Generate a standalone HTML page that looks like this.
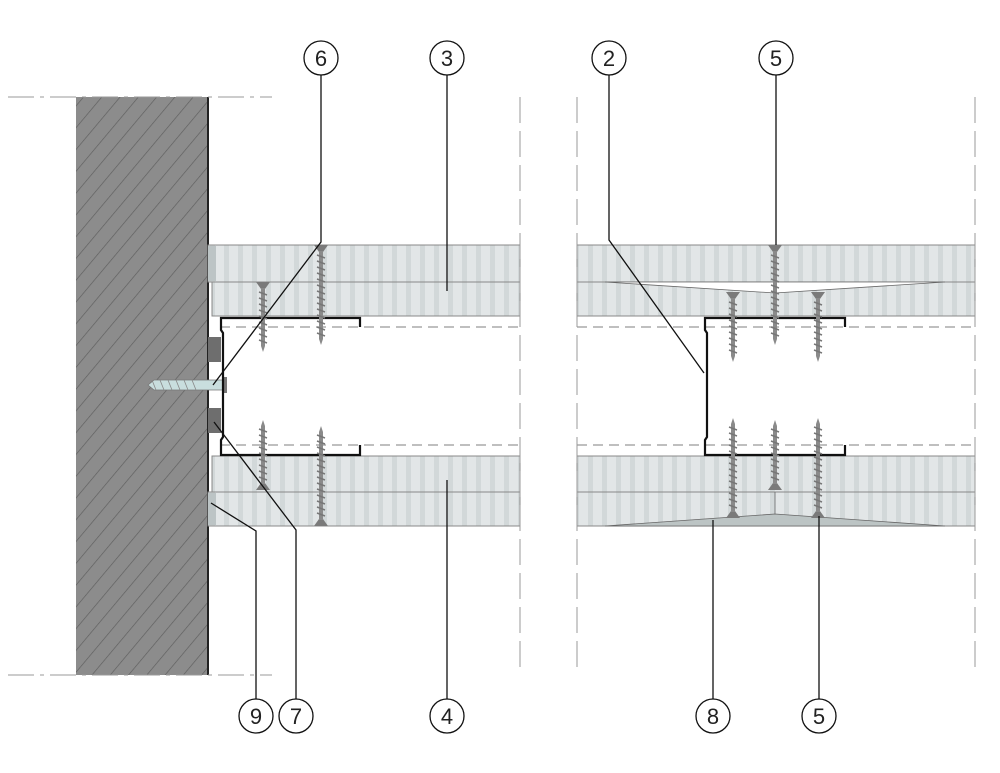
<!DOCTYPE html>
<html><head><meta charset="utf-8"><style>
html,body{margin:0;padding:0;background:#fff;}
svg{display:block;}
text{font-family:"Liberation Sans",sans-serif;font-size:22px;fill:#222;text-anchor:middle;}
</style></head><body>
<svg width="1000" height="773" viewBox="0 0 1000 773" xmlns="http://www.w3.org/2000/svg">
<defs>
<pattern id="hatch" width="14" height="14" patternUnits="userSpaceOnUse" patternTransform="rotate(40)">
<rect width="14" height="14" fill="#8c8c8c"/><line x1="0" y1="0" x2="0" y2="14" stroke="#5e5e5e" stroke-width="1.3"/>
</pattern>
<pattern id="board" width="14" height="10" patternUnits="userSpaceOnUse">
<rect width="14" height="10" fill="#e2e6e7"/><rect x="0" width="5" height="10" fill="#d2d8d9"/>
</pattern>
<g id="screwL">
<polygon points="-7,0 7,0 2,7 -2,7" fill="#7a7a7a"/>
<rect x="-2" y="6" width="4" height="88" fill="#8a8a8a"/>
<path d="M-4,10 L4,13 M-4,16 L4,19 M-4,22 L4,25 M-4,28 L4,31 M-4,34 L4,37 M-4,40 L4,43 M-4,46 L4,49 M-4,52 L4,55 M-4,58 L4,61 M-4,64 L4,67 M-4,70 L4,73 M-4,76 L4,79 M-4,82 L4,85 M-4,88 L4,91" stroke="#777" stroke-width="1.5"/>
<polygon points="-2,94 2,94 0,100" fill="#8a8a8a"/>
</g>
<g id="screwS">
<polygon points="-7,0 7,0 2,7 -2,7" fill="#7a7a7a"/>
<rect x="-2" y="6" width="4" height="58" fill="#8a8a8a"/>
<path d="M-4,10 L4,13 M-4,16 L4,19 M-4,22 L4,25 M-4,28 L4,31 M-4,34 L4,37 M-4,40 L4,43 M-4,46 L4,49 M-4,52 L4,55 M-4,58 L4,61" stroke="#777" stroke-width="1.5"/>
<polygon points="-2,64 2,64 0,70" fill="#8a8a8a"/>
</g>
</defs>

<rect x="76" y="97" width="132" height="578" fill="url(#hatch)"/>
<line x1="208" y1="97" x2="208" y2="675" stroke="#222" stroke-width="2"/>
<g stroke="#999" stroke-width="1" stroke-dasharray="26,6,4,6">
<line x1="8" y1="97" x2="272" y2="97"/><line x1="8" y1="675" x2="272" y2="675"/>
</g>

<g stroke="#888" stroke-width="1">
<rect x="208" y="245" width="312" height="37" fill="url(#board)"/>
<rect x="212" y="282" width="308" height="34" fill="url(#board)"/>
<rect x="212" y="456" width="308" height="36" fill="url(#board)"/>
<rect x="208" y="492" width="312" height="34" fill="url(#board)"/>
<rect x="577" y="245" width="398" height="37" fill="url(#board)"/>
<rect x="577" y="282" width="398" height="34" fill="url(#board)"/>
<rect x="577" y="456" width="398" height="36" fill="url(#board)"/>
<rect x="577" y="492" width="398" height="34" fill="url(#board)"/>
</g>
<rect x="208" y="246" width="8" height="35" fill="#bcc4c5"/>
<rect x="208" y="493" width="8" height="32" fill="#bcc4c5"/>
<polygon points="605,282 945,282 775,293" fill="#fff" stroke="#666" stroke-width="0.8"/>
<polygon points="605,526 945,526 775,514" fill="#bcc4c4" stroke="#666" stroke-width="0.8"/>
<line x1="775" y1="492" x2="775" y2="514" stroke="#666" stroke-width="0.8"/>

<g stroke="#999" stroke-width="1.3" stroke-dasharray="10,6">
<line x1="220" y1="327" x2="520" y2="327"/><line x1="220" y1="445" x2="520" y2="445"/>
<line x1="577" y1="327" x2="975" y2="327"/><line x1="577" y1="445" x2="975" y2="445"/>
</g>
<g stroke="#999" stroke-width="1" stroke-dasharray="26,8">
<line x1="520" y1="97" x2="520" y2="675"/><line x1="577" y1="97" x2="577" y2="675"/><line x1="975" y1="97" x2="975" y2="675"/>
</g>

<rect x="208" y="337" width="13" height="25" fill="#6e6e6e"/>
<rect x="208" y="408" width="13" height="25" fill="#6e6e6e"/>
<polygon points="148,385 154,380 224,380 224,390 154,390" fill="#c9dede" stroke="#777" stroke-width="0.8"/>
<path d="M152,380 L156,390 M160,380 L164,390 M168,380 L172,390 M176,380 L180,390 M184,380 L188,390 M192,380 L196,390" stroke="#888" stroke-width="0.8"/>
<rect x="224" y="377" width="3" height="16" fill="#777"/>

<g fill="none" stroke="#111" stroke-width="2.2">
<path d="M360,327 L360,318 L221,318 L221,330 L223,333 L223,437 L221,440 L221,455 L360,455 L360,445"/>
<path d="M845,327 L845,318 L705,318 L705,330 L707,333 L707,437 L705,440 L705,455 L845,455 L845,445"/>
</g>

<use href="#screwL" x="321" y="245"/>
<use href="#screwS" x="263" y="282"/>
<use href="#screwS" x="263" y="490" transform="rotate(180 263 490)"/>
<use href="#screwL" x="321" y="526" transform="rotate(180 321 526)"/>
<use href="#screwL" x="775" y="245"/>
<use href="#screwS" x="733" y="292"/>
<use href="#screwS" x="818" y="292"/>
<use href="#screwL" x="733" y="518" transform="rotate(180 733 518)"/>
<use href="#screwS" x="775" y="490" transform="rotate(180 775 490)"/>
<use href="#screwL" x="818" y="518" transform="rotate(180 818 518)"/>

<g stroke="#111" stroke-width="1.3" fill="none">
<path d="M321,75 L321,242 L213,385"/>
<path d="M447,75 L447,291"/>
<path d="M609,75 L609,240 L704,373"/>
<path d="M776,75 L776,245"/>
<path d="M256,699 L256,531 L211,503"/>
<path d="M296,699 L296,530 L214,422"/>
<path d="M447,699 L447,480"/>
<path d="M713,699 L713,520"/>
<path d="M819,699 L819,516"/>
</g>
<g fill="#fff" stroke="#111" stroke-width="1.3">
<circle cx="321" cy="58" r="17"/><circle cx="447" cy="58" r="17"/>
<circle cx="609" cy="58" r="17"/><circle cx="776" cy="58" r="17"/>
<circle cx="256" cy="716" r="17"/><circle cx="296" cy="716" r="17"/>
<circle cx="447" cy="716" r="17"/><circle cx="713" cy="716" r="17"/>
<circle cx="819" cy="716" r="17"/>
</g>
<text x="321" y="66">6</text><text x="447" y="66">3</text>
<text x="609" y="66">2</text><text x="776" y="66">5</text>
<text x="256" y="724">9</text><text x="296" y="724">7</text>
<text x="447" y="724">4</text><text x="713" y="724">8</text>
<text x="819" y="724">5</text>
</svg>
</body></html>
